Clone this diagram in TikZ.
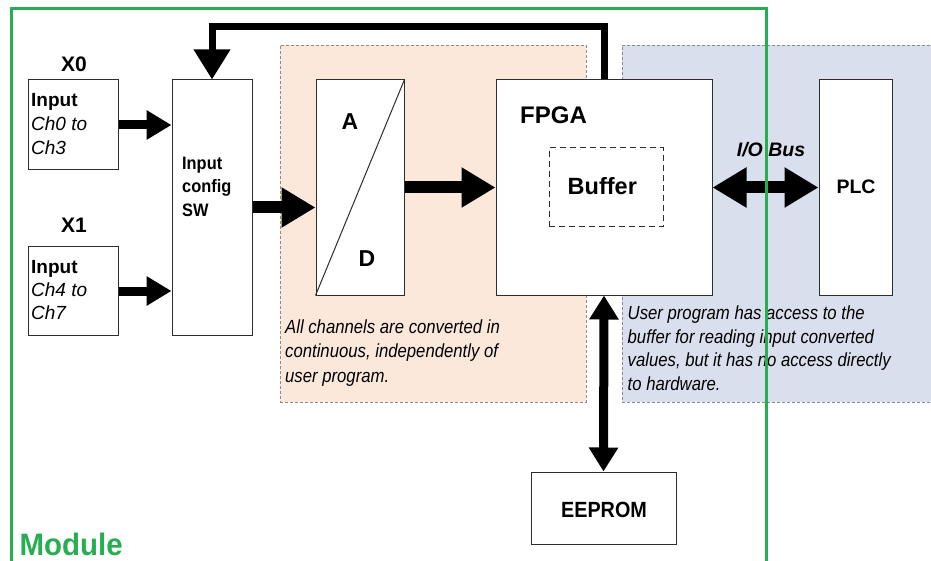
\documentclass[tikz,border=0pt]{standalone}
\usepackage{fontspec}
\setmainfont{Liberation Sans}
\usetikzlibrary{arrows.meta}
\definecolor{modgreen}{RGB}{38,174,80}
\definecolor{peach}{RGB}{251,232,219}
\definecolor{bluegrey}{RGB}{217,223,236}
\definecolor{regborder}{RGB}{140,140,140}
\definecolor{boxborder}{RGB}{45,45,45}
\begin{document}
\begin{tikzpicture}[x=1pt,y=-1pt,
  region/.style={draw=regborder, line width=0.8pt, dash pattern=on 3pt off 2pt, inner sep=0pt},
  blk/.style={draw=boxborder, line width=1pt, fill=white, inner sep=0pt},
  bufbox/.style={draw=boxborder, line width=1pt, dash pattern=on 6pt off 4pt, inner sep=0pt},
  lbl/.style={inner sep=0pt, anchor=base west},
  note/.style={inner sep=0pt, anchor=base west, font=\fontsize{19}{23}\selectfont\itshape, xscale=0.88},
  arrA/.style={line width=9pt, -{Triangle[length=25pt,width=28pt]}},
  arrB/.style={line width=12pt, -{Triangle[length=34pt,width=38pt]}},
  arrC/.style={line width=7pt, line join=miter, -{Triangle[length=30pt,width=35pt]}},
  busarr/.style={line width=12pt, {Triangle[length=34pt,width=38pt]}-{Triangle[length=34pt,width=38pt]}},
  eeparr/.style={line width=9pt, {Triangle[length=24pt,width=28pt]}-{Triangle[length=24pt,width=28pt]}},
  modframe/.style={draw=modgreen, line width=3pt}
]
\useasboundingbox (0,0) rectangle (931,561);
\fill[white] (0,0) rectangle (931,561);

% regions
\node[region, fill=peach, minimum width=306pt, minimum height=357pt] (conv) at (433,223.5) {};
\node[region, fill=bluegrey, minimum width=318pt, minimum height=357pt] (userreg) at (781,223.5) {};

% blocks
\node[blk, minimum width=90pt, minimum height=90pt] (x0box) at (73,125) {};
\node[blk, minimum width=90pt, minimum height=88pt] (x1box) at (73,291) {};
\node[blk, minimum width=80pt, minimum height=255pt] (sw) at (212,207.5) {};
\node[blk, minimum width=88pt, minimum height=215pt] (ad) at (360,187.5) {};
\node[blk, minimum width=216pt, minimum height=215pt] (fpga) at (604,187.5) {};
\node[bufbox, minimum width=114pt, minimum height=79pt] (buffer) at (606,187.5) {};
\node[blk, minimum width=73pt, minimum height=215pt] (plc) at (855.5,187.5) {};
\node[blk, minimum width=145pt, minimum height=72pt] (eeprom) at (603.5,508) {};
\draw[boxborder, line width=1pt] (ad.south west) -- (ad.north east);

% connectors
\coordinate (fbtop) at (0,27);
\draw[arrA] (x0box.east) -- (sw.west |- x0box.east);
\draw[arrA] (x1box.east) -- (sw.west |- x1box.east);
\draw[arrB] (sw.west -| sw.east) -- (ad.west |- sw.east);
\draw[arrB] (ad.east) -- (fpga.west);
\draw[arrC] (fpga.north) -- (fpga.north |- fbtop) -| (sw.north);
\draw[busarr] (fpga.east) -- (plc.west);
\draw[eeparr] (fpga.south) -- (eeprom.north);

% labels
\node[inner sep=0pt, anchor=base, font=\fontsize{21}{21}\selectfont\bfseries] (x0lbl) at (74,72) {X0};
\node[inner sep=0pt, anchor=base, font=\fontsize{21}{21}\selectfont\bfseries] (x1lbl) at (74,233) {X1};
\node[lbl, font=\fontsize{19}{19}\selectfont\bfseries] (x0t1) at (31,107) {Input};
\node[lbl, font=\fontsize{19}{19}\selectfont\itshape] (x0t2) at (31,131) {Ch0 to};
\node[lbl, font=\fontsize{19}{19}\selectfont\itshape] (x0t3) at (31,155) {Ch3};
\node[lbl, font=\fontsize{19}{19}\selectfont\bfseries] (x1t1) at (31,273) {Input};
\node[lbl, font=\fontsize{19}{19}\selectfont\itshape] (x1t2) at (31,296) {Ch4 to};
\node[lbl, font=\fontsize{19}{19}\selectfont\itshape] (x1t3) at (31,319) {Ch7};
\node[lbl, font=\fontsize{18}{18}\selectfont\bfseries, xscale=0.91] (swt1) at (182,170) {Input};
\node[lbl, font=\fontsize{18}{18}\selectfont\bfseries, xscale=0.91] (swt2) at (182,193) {config};
\node[lbl, font=\fontsize{18}{18}\selectfont\bfseries, xscale=0.91] (swt3) at (182,216.5) {SW};
\node[inner sep=0pt, anchor=base, font=\fontsize{23}{23}\selectfont\bfseries] (alb) at (350,130) {A};
\node[inner sep=0pt, anchor=base, font=\fontsize{23}{23}\selectfont\bfseries] (dlb) at (367,266.5) {D};
\node[lbl, font=\fontsize{24}{24}\selectfont\bfseries] (fpgalbl) at (520,124) {FPGA};
\node[lbl, font=\fontsize{23.5}{24}\selectfont\bfseries] (buflbl) at (567.5,195) {Buffer};
\node[inner sep=0pt, anchor=base, font=\fontsize{19.5}{20}\selectfont\bfseries\itshape] (buslbl) at (771,157) {I/O Bus};
\node[inner sep=0pt, anchor=base, font=\fontsize{19.5}{20}\selectfont\bfseries] (plclbl) at (856,193.3) {PLC};
\node[inner sep=0pt, anchor=base, font=\fontsize{22}{22}\selectfont\bfseries, xscale=0.9] (eeplbl) at (604,517.5) {EEPROM};

% notes
\node[note] (n1a) at (285,333) {All channels are converted in};
\node[note] (n1b) at (285,357.5) {continuous, independently of};
\node[note] (n1c) at (285,382) {user program.};
\node[note] (n2a) at (627.5,319) {User program has access to the};
\node[note] (n2b) at (627.5,343) {buffer for reading input converted};
\node[note] (n2c) at (627.5,366) {values, but it has no access directly};
\node[note] (n2d) at (627.5,390) {to hardware.};

% module frame
\draw[modframe] (11,570) -- (11,9) -- (766,9) -- (766,570);
\node[lbl, font=\fontsize{31}{31}\selectfont\bfseries, text=modgreen, xscale=0.95] (modlbl) at (19.5,555) {Module};
\end{tikzpicture}
\end{document}
